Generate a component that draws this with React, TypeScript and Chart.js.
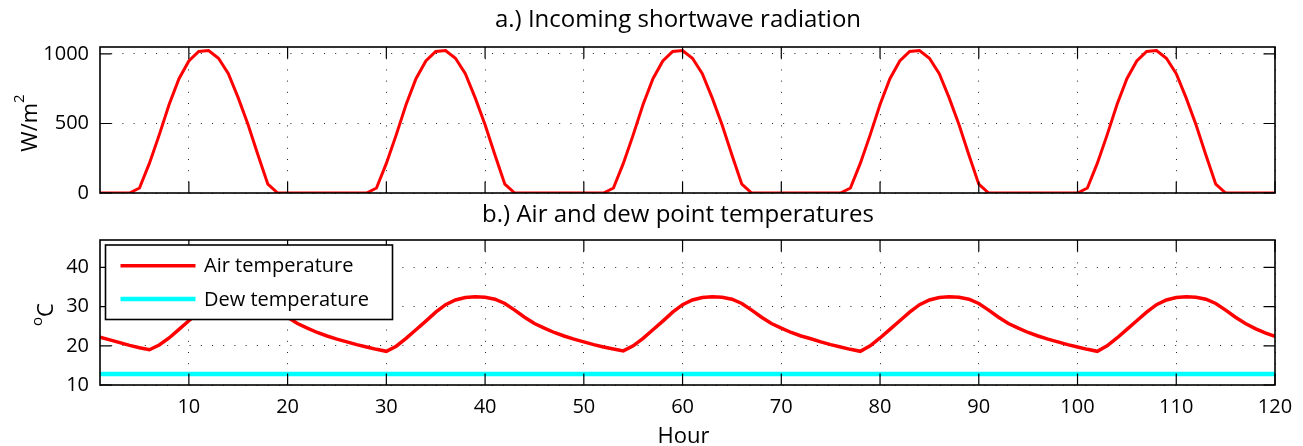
import React, { useEffect, useRef } from "react";
import { Chart, registerables } from "chart.js";

Chart.register(...registerables);

const FONT = "'Open Sans', 'DejaVu Sans', sans-serif";

// ---------- data ----------
const hours = [
  1, 2, 3, 4, 5, 6, 7, 8, 9, 10, 11, 12, 13, 14, 15, 16, 17, 18, 19, 20, 21, 22, 23, 24,
  25, 26, 27, 28, 29, 30, 31, 32, 33, 34, 35, 36, 37, 38, 39, 40, 41, 42, 43, 44, 45, 46, 47, 48,
  49, 50, 51, 52, 53, 54, 55, 56, 57, 58, 59, 60, 61, 62, 63, 64, 65, 66, 67, 68, 69, 70, 71, 72,
  73, 74, 75, 76, 77, 78, 79, 80, 81, 82, 83, 84, 85, 86, 87, 88, 89, 90, 91, 92, 93, 94, 95, 96,
  97, 98, 99, 100, 101, 102, 103, 104, 105, 106, 107, 108, 109, 110, 111, 112, 113, 114, 115, 116, 117, 118, 119, 120,
];

const xTicks = [10, 20, 30, 40, 50, 60, 70, 80, 90, 100, 110, 120];
const radiationTicks = [0, 500, 1000];
const temperatureTicks = [10, 20, 30, 40];

// Incoming shortwave radiation (W/m^2)
const radiation = [
  0, 0, 0, 0, 36, 213, 418, 636, 822, 950, 1018, 1025, 969, 858, 684, 491, 273, 63, 0, 0, 0, 0, 0, 0,
  0, 0, 0, 0, 36, 213, 418, 636, 822, 950, 1018, 1025, 969, 858, 684, 491, 273, 63, 0, 0, 0, 0, 0, 0,
  0, 0, 0, 0, 36, 213, 418, 636, 822, 950, 1018, 1025, 969, 858, 684, 491, 273, 63, 0, 0, 0, 0, 0, 0,
  0, 0, 0, 0, 36, 213, 418, 636, 822, 950, 1018, 1025, 969, 858, 684, 491, 273, 63, 0, 0, 0, 0, 0, 0,
  0, 0, 0, 0, 36, 213, 418, 636, 822, 950, 1018, 1025, 969, 858, 684, 491, 273, 63, 0, 0, 0, 0, 0, 0,
];

// Air temperature (°C)
const airTemperature = [
  22.2, 21.5, 20.8, 20.1, 19.5, 19.0, 20.2, 22.0, 24.2, 26.4, 28.6, 30.5, 31.7, 32.3, 32.5, 32.4, 31.9, 30.8, 29.1, 27.3, 25.7, 24.5, 23.4, 22.5,
  21.7, 21.0, 20.3, 19.7, 19.1, 18.6, 19.9, 21.9, 24.1, 26.3, 28.6, 30.5, 31.7, 32.3, 32.5, 32.4, 31.9, 30.8, 29.1, 27.3, 25.7, 24.5, 23.4, 22.5,
  21.7, 21.0, 20.3, 19.7, 19.2, 18.7, 20.0, 21.9, 24.1, 26.3, 28.6, 30.5, 31.7, 32.3, 32.5, 32.4, 31.9, 30.8, 29.1, 27.3, 25.7, 24.5, 23.4, 22.5,
  21.8, 21.0, 20.3, 19.7, 19.1, 18.6, 20.0, 22.0, 24.2, 26.4, 28.6, 30.5, 31.7, 32.3, 32.5, 32.4, 31.9, 30.8, 29.1, 27.3, 25.7, 24.5, 23.4, 22.5,
  21.7, 21.0, 20.3, 19.7, 19.1, 18.6, 20.0, 22.0, 24.2, 26.4, 28.6, 30.5, 31.7, 32.3, 32.5, 32.4, 31.9, 30.8, 29.1, 27.3, 25.7, 24.4, 23.3, 22.4,
];

// Dew temperature (°C)
const dewTemperature = [
  12.8, 12.8, 12.8, 12.8, 12.8, 12.8, 12.8, 12.8, 12.8, 12.8, 12.8, 12.8, 12.8, 12.8, 12.8, 12.8, 12.8, 12.8, 12.8, 12.8, 12.8, 12.8, 12.8, 12.8,
  12.8, 12.8, 12.8, 12.8, 12.8, 12.8, 12.8, 12.8, 12.8, 12.8, 12.8, 12.8, 12.8, 12.8, 12.8, 12.8, 12.8, 12.8, 12.8, 12.8, 12.8, 12.8, 12.8, 12.8,
  12.8, 12.8, 12.8, 12.8, 12.8, 12.8, 12.8, 12.8, 12.8, 12.8, 12.8, 12.8, 12.8, 12.8, 12.8, 12.8, 12.8, 12.8, 12.8, 12.8, 12.8, 12.8, 12.8, 12.8,
  12.8, 12.8, 12.8, 12.8, 12.8, 12.8, 12.8, 12.8, 12.8, 12.8, 12.8, 12.8, 12.8, 12.8, 12.8, 12.8, 12.8, 12.8, 12.8, 12.8, 12.8, 12.8, 12.8, 12.8,
  12.8, 12.8, 12.8, 12.8, 12.8, 12.8, 12.8, 12.8, 12.8, 12.8, 12.8, 12.8, 12.8, 12.8, 12.8, 12.8, 12.8, 12.8, 12.8, 12.8, 12.8, 12.8, 12.8, 12.8,
];

const topTitle = "a.) Incoming shortwave radiation";
const bottomTitle = "b.) Air and dew point temperatures";
const xAxisLabel = "Hour";
const legendLabels = ["Air temperature", "Dew temperature"];

const RED = "#ff0000";
const CYAN = "#00ffff";

type DecorCfg = {
  title: string;
  titleY: number;
  yTicks: number[];
  ylabel: { main: string; sup: string; supFirst: boolean; x: number; dy: number; raise: number };
  xlabel?: { text: string; y: number };
  legend?: boolean;
};

function decorPlugin(cfg: DecorCfg) {
  return {
    id: "decor",
    afterDraw(chart: any) {
      const { ctx, chartArea: a, scales } = chart;
      ctx.save();
      // inward ticks
      const TL = 11.5;
      ctx.strokeStyle = "#000";
      ctx.lineWidth = 1.2;
      ctx.setLineDash([]);
      ctx.beginPath();
      for (const v of xTicks) {
        const x = scales.x.getPixelForValue(v);
        ctx.moveTo(x, a.bottom);
        ctx.lineTo(x, a.bottom - TL);
        ctx.moveTo(x, a.top);
        ctx.lineTo(x, a.top + TL);
      }
      for (const v of cfg.yTicks) {
        const y = scales.y.getPixelForValue(v);
        ctx.moveTo(a.left, y);
        ctx.lineTo(a.left + TL, y);
        ctx.moveTo(a.right, y);
        ctx.lineTo(a.right - TL, y);
      }
      ctx.stroke();
      // frame
      ctx.lineWidth = 1.6;
      ctx.strokeRect(a.left, a.top, a.right - a.left, a.bottom - a.top);

      // title
      ctx.fillStyle = "#000";
      ctx.font = `24px ${FONT}`;
      ctx.textAlign = "center";
      ctx.textBaseline = "alphabetic";
      ctx.fillText(cfg.title, (a.left + a.right) / 2 - 9.5, cfg.titleY);

      // y label (rotated, with superscript)
      const yl = cfg.ylabel;
      ctx.save();
      ctx.translate(yl.x, (a.top + a.bottom) / 2 + yl.dy);
      ctx.rotate(-Math.PI / 2);
      ctx.textAlign = "left";
      ctx.font = `22px ${FONT}`;
      const wMain = ctx.measureText(yl.main).width;
      ctx.font = `15px ${FONT}`;
      const wSup = ctx.measureText(yl.sup).width;
      let sx = -(wMain + wSup) / 2;
      if (yl.supFirst) {
        ctx.font = `15px ${FONT}`;
        ctx.fillText(yl.sup, sx, -yl.raise);
        sx += wSup;
        ctx.font = `22px ${FONT}`;
        ctx.fillText(yl.main, sx, 0);
      } else {
        ctx.font = `22px ${FONT}`;
        ctx.fillText(yl.main, sx, 0);
        sx += wMain;
        ctx.font = `15px ${FONT}`;
        ctx.fillText(yl.sup, sx, -yl.raise);
      }
      ctx.restore();

      // x label
      if (cfg.xlabel) {
        ctx.font = `22px ${FONT}`;
        ctx.textAlign = "center";
        ctx.textBaseline = "alphabetic";
        ctx.fillText(cfg.xlabel.text, (a.left + a.right) / 2 - 4, cfg.xlabel.y);
      }

      // legend
      if (cfg.legend) {
        const lx = a.left + 5.5;
        const ly = a.top + 5;
        const lw = 287;
        const lh = 74.5;
        ctx.fillStyle = "#fff";
        ctx.fillRect(lx, ly, lw, lh);
        ctx.strokeStyle = "#000";
        ctx.lineWidth = 1.6;
        ctx.strokeRect(lx, ly, lw, lh);
        const rows = [
          { label: legendLabels[0], color: RED, width: 3.5, y: ly + 20.7 },
          { label: legendLabels[1], color: CYAN, width: 4.5, y: ly + 54 },
        ];
        ctx.font = `20px ${FONT}`;
        ctx.textAlign = "left";
        ctx.textBaseline = "middle";
        for (const r of rows) {
          ctx.strokeStyle = r.color;
          ctx.lineWidth = r.width;
          ctx.beginPath();
          ctx.moveTo(lx + 15, r.y);
          ctx.lineTo(lx + 90, r.y);
          ctx.stroke();
          ctx.fillStyle = "#000";
          ctx.fillText(r.label, lx + 98.5, r.y + 1);
        }
      }
      ctx.restore();
    },
  };
}

function gridCfg() {
  return { color: "#222", lineWidth: 1, drawTicks: false };
}
function borderCfg() {
  return { display: false, dash: [1, 10.2] };
}
const plainLabel = (v: any) => String(v);

export default function App() {
  const topRef = useRef<HTMLCanvasElement | null>(null);
  const botRef = useRef<HTMLCanvasElement | null>(null);

  useEffect(() => {
    const charts: Chart[] = [];
    if (topRef.current) {
      charts.push(
        new Chart(topRef.current, {
          type: "line",
          data: {
            datasets: [
              {
                label: "Incoming shortwave radiation",
                data: hours.map((h, i) => ({ x: h, y: radiation[i] })),
                borderColor: RED,
                borderWidth: 3,
                pointRadius: 0,
                tension: 0,
                fill: false,
              },
            ],
          },
          options: {
            responsive: false,
            animation: false,
            events: [],
            layout: { padding: { left: 0, right: 28, top: 47, bottom: 7 } },
            plugins: { legend: { display: false }, title: { display: false }, tooltip: { enabled: false } },
            scales: {
              x: {
                type: "linear",
                min: 1,
                max: 120,
                afterBuildTicks: (s: any) => {
                  s.ticks = xTicks.map((v) => ({ value: v }));
                },
                afterFit: (s: any) => {
                  s.height = 0;
                  s.paddingLeft = 0;
                  s.paddingRight = 0;
                },
                ticks: { display: false },
                grid: gridCfg(),
                border: borderCfg(),
              },
              y: {
                type: "linear",
                min: 0,
                max: 1050,
                afterBuildTicks: (s: any) => {
                  s.ticks = radiationTicks.map((v) => ({ value: v }));
                },
                afterFit: (s: any) => {
                  s.width = 100;
                  s.paddingTop = 0;
                  s.paddingBottom = 0;
                },
                ticks: { color: "#000", font: { family: FONT, size: 20 }, padding: 11, callback: plainLabel },
                grid: gridCfg(),
                border: borderCfg(),
              },
            },
          } as any,
          plugins: [
            decorPlugin({
              title: topTitle,
              titleY: 27,
              yTicks: radiationTicks,
              ylabel: { main: "W/m", sup: "2", supFirst: false, x: 37, dy: 3, raise: 13 },
            }),
          ],
        })
      );
    }
    if (botRef.current) {
      charts.push(
        new Chart(botRef.current, {
          type: "line",
          data: {
            datasets: [
              {
                label: legendLabels[0],
                data: hours.map((h, i) => ({ x: h, y: airTemperature[i] })),
                borderColor: RED,
                borderWidth: 3.5,
                pointRadius: 0,
                tension: 0,
                fill: false,
              },
              {
                label: legendLabels[1],
                data: hours.map((h, i) => ({ x: h, y: dewTemperature[i] })),
                borderColor: CYAN,
                borderWidth: 4.5,
                pointRadius: 0,
                tension: 0,
                fill: false,
              },
            ],
          },
          options: {
            responsive: false,
            animation: false,
            events: [],
            layout: { padding: { left: 0, right: 28, top: 40, bottom: 0 } },
            plugins: { legend: { display: false }, title: { display: false }, tooltip: { enabled: false } },
            scales: {
              x: {
                type: "linear",
                min: 1,
                max: 120,
                afterBuildTicks: (s: any) => {
                  s.ticks = xTicks.map((v) => ({ value: v }));
                },
                afterFit: (s: any) => {
                  s.height = 61;
                  s.paddingLeft = 0;
                  s.paddingRight = 0;
                },
                ticks: { color: "#000", font: { family: FONT, size: 20 }, padding: 10, maxRotation: 0, autoSkip: false, callback: plainLabel },
                grid: gridCfg(),
                border: borderCfg(),
              },
              y: {
                type: "linear",
                min: 10,
                max: 47,
                afterBuildTicks: (s: any) => {
                  s.ticks = temperatureTicks.map((v) => ({ value: v }));
                },
                afterFit: (s: any) => {
                  s.width = 100;
                  s.paddingTop = 0;
                  s.paddingBottom = 0;
                },
                ticks: { color: "#000", font: { family: FONT, size: 20 }, padding: 11, callback: plainLabel },
                grid: gridCfg(),
                border: borderCfg(),
              },
            },
          } as any,
          plugins: [
            decorPlugin({
              title: bottomTitle,
              titleY: 22,
              yTicks: temperatureTicks,
              ylabel: { main: "C", sup: "o", supFirst: true, x: 53, dy: 2, raise: 11 },
              xlabel: { text: xAxisLabel, y: 243 },
              legend: true,
            }),
          ],
        })
      );
    }
    return () => {
      charts.forEach((c) => c.destroy());
    };
  }, []);

  return (
    <div style={{ position: "fixed", left: 0, top: 0, width: 1303, height: 446, background: "#fff" }}>
      <canvas ref={topRef} width={1303} height={200} style={{ display: "block", width: 1303, height: 200 }} />
      <canvas ref={botRef} width={1303} height={246} style={{ display: "block", width: 1303, height: 246 }} />
    </div>
  );
}
